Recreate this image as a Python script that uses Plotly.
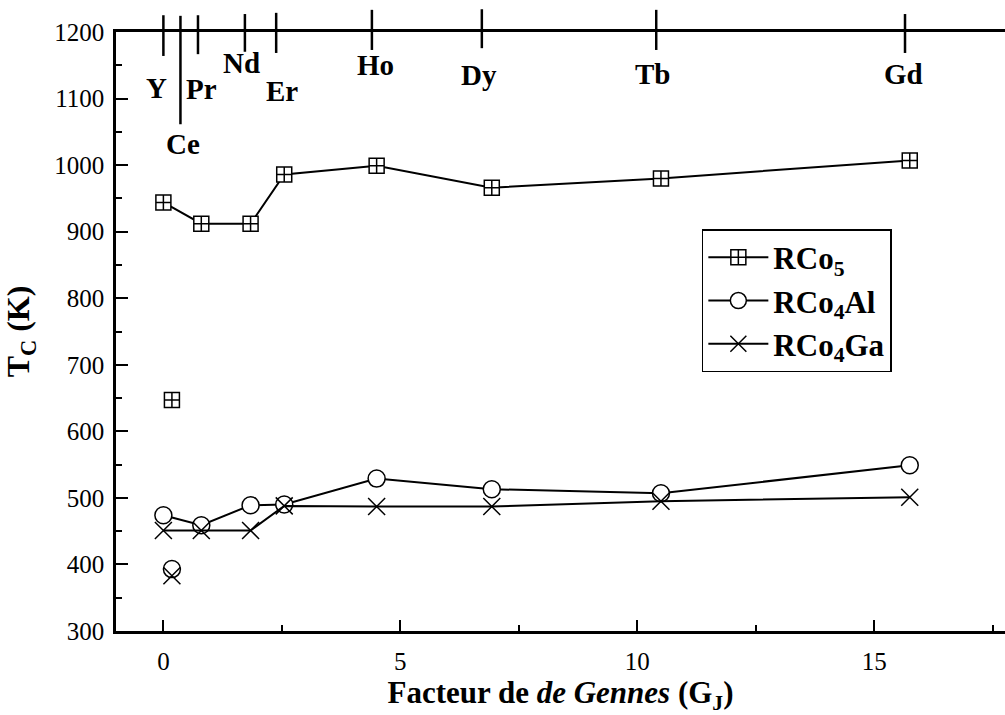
import plotly.graph_objects as go

# ---------------- data ----------------
# connected series (Y, Pr, Nd, Er, Ho, Dy, Tb, Gd)
gj = [0.0, 0.8, 1.84, 2.55, 4.5, 6.93, 10.5, 15.75]
tc_rco5 = [944, 912, 912, 986, 999, 966, 980, 1007]
tc_rco4al = [474, 459, 489, 490, 529, 513, 507, 549]
tc_rco4ga = [451, 451, 451, 488, 487, 487, 495, 501]

# Ce (isolated points, not joined)
gj_ce = [0.18]
tc_ce_rco5 = [647]
tc_ce_rco4al = [393]
tc_ce_rco4ga = [383]

# rare-earth marks on the top axis
elements = ["Y", "Ce", "Pr", "Nd", "Er", "Ho", "Dy", "Tb", "Gd"]
element_gj = [0.0, 0.36, 0.73, 1.72, 2.38, 4.4, 6.72, 10.4, 15.65]

# ---------------- styling ----------------
FONT = "Liberation Serif"
# tick mark extents (paper y) and label positions (paper y, x shift px)
tick_top = [1.028, 1.027, 1.028, 1.030, 1.032, 1.037, 1.038, 1.037, 1.030]
tick_bot = [0.960, 0.846, 0.963, 0.967, 0.965, 0.970, 0.973, 0.970, 0.965]
lab_y = [0.9065, 0.813, 0.905, 0.948, 0.9015, 0.945, 0.928, 0.930, 0.930]
lab_dx = [-7, 3, 4, -3, 6, 4, -3, -4, -2]

fig = go.Figure()

def add_series(x, y, name, symbol, size, showlegend=True, mode="lines+markers"):
    fig.add_trace(go.Scatter(
        x=x, y=y, name=name, mode=mode, showlegend=showlegend,
        line=dict(color="black", width=2),
        marker=dict(symbol=symbol, size=size, color="white",
                    line=dict(color="black", width=1.5)),
        cliponaxis=False,
    ))

add_series(gj, tc_rco5, "<b>RCo<sub>5</sub></b>", "square-cross", 15)
add_series(gj, tc_rco4al, "<b>RCo<sub>4</sub>Al</b>", "circle", 17)
add_series(gj, tc_rco4ga, "<b>RCo<sub>4</sub>Ga</b>", "x-thin", 17)
add_series(gj_ce, tc_ce_rco5, "ce5", "square-cross", 15, False, "markers")
add_series(gj_ce, tc_ce_rco4al, "ceal", "circle", 17, False, "markers")
add_series(gj_ce, tc_ce_rco4ga, "ceGa", "x-thin", 17, False, "markers")

shapes = []
annotations = []
for i, (el, g) in enumerate(zip(elements, element_gj)):
    shapes.append(dict(type="line", xref="x", yref="paper",
                       x0=g, x1=g, y0=tick_bot[i], y1=tick_top[i],
                       line=dict(color="black", width=2.5)))
    annotations.append(dict(xref="x", yref="paper", x=g, y=lab_y[i],
                            text=f"<b>{el}</b>", showarrow=False,
                            xanchor="center", yanchor="middle", xshift=lab_dx[i],
                            font=dict(family=FONT, size=29, color="black")))

fig.update_layout(
    width=1005, height=715,
    margin=dict(l=116, r=0, t=32, b=84),
    paper_bgcolor="white", plot_bgcolor="white",
    font=dict(family=FONT, color="black", size=25),
    showlegend=True,
    legend=dict(x=0.659, y=0.671, xanchor="left", yanchor="top",
                bordercolor="black", borderwidth=1.5, bgcolor="white",
                font=dict(family=FONT, size=31, color="black"),
                itemwidth=60, tracegroupgap=6),
    shapes=shapes,
    annotations=annotations,
)

fig.update_xaxes(
    range=[-1, 17.76], showgrid=False, zeroline=False,
    showline=True, linecolor="black", linewidth=2.5, mirror=True,
    ticks="inside", ticklen=11, tickwidth=2, tickcolor="black",
    dtick=5, tick0=0, ticklabelstandoff=6,
    minor=dict(ticks="inside", ticklen=6, tickwidth=2, dtick=2.5, tickcolor="black"),
    tickfont=dict(family=FONT, size=25),
    title=dict(text="<b>Facteur de <i>de Gennes</i> (G<sub>J</sub>)</b>",
               font=dict(family=FONT, size=31), standoff=14),
)
fig.update_yaxes(
    range=[300, 1200], showgrid=False, zeroline=False,
    showline=True, linecolor="black", linewidth=2.5, mirror=False,
    ticks="inside", ticklen=12, tickwidth=2, tickcolor="black",
    dtick=100, tick0=300, ticklabelstandoff=4,
    minor=dict(ticks="inside", ticklen=6, tickwidth=2, dtick=50, tickcolor="black"),
    tickfont=dict(family=FONT, size=25),
    title=dict(text="<b>T<sub>C</sub> (K)</b>",
               font=dict(family=FONT, size=32), standoff=16),
)

fig.write_html("out.html", config={"displayModeBar": False},
               post_script="document.body.style.margin='0';document.body.style.overflow='hidden';")
